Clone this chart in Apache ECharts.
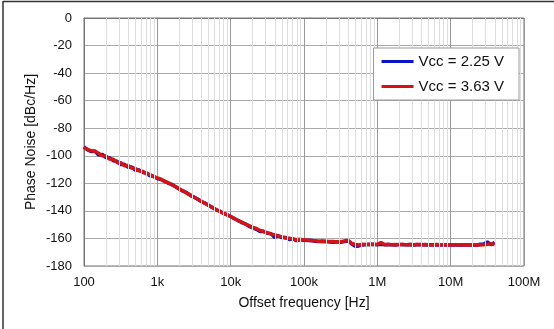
<!DOCTYPE html>
<html><head><meta charset="utf-8">
<script src="https://cdn.jsdelivr.net/npm/echarts@6/dist/echarts.min.js"></script>
<style>html,body{margin:0;padding:0;background:#fff}#c{width:554px;height:329px}</style>
</head><body><div id="c"></div>
<script>
const freqHz = [
100,112,126,141,158,178,200,224,251,282,316,355,398,447,501,562,631,708,794,891,
1000,1122,1259,1413,1585,1778,1995,2239,2512,2818,3162,3548,3981,4467,5012,5623,6310,7079,7943,8913,
1e4,1.12e4,1.26e4,1.41e4,1.58e4,1.78e4,2e4,2.24e4,2.51e4,2.82e4,3.16e4,3.55e4,3.98e4,4.47e4,5.01e4,5.62e4,6.31e4,7.08e4,7.94e4,8.91e4,
1e5,1.12e5,1.26e5,1.41e5,1.58e5,1.78e5,2e5,2.24e5,2.51e5,2.82e5,3.16e5,3.55e5,3.98e5,4.47e5,5.01e5,5.62e5,6.31e5,7.08e5,7.94e5,8.91e5,
1e6,1.12e6,1.26e6,1.41e6,1.58e6,1.78e6,2e6,2.24e6,2.51e6,2.82e6,3.16e6,3.55e6,3.98e6,4.47e6,5.01e6,5.62e6,6.31e6,7.08e6,7.94e6,8.91e6,
1e7,1.12e7,1.26e7,1.41e7,1.58e7,1.78e7,2e7,2.24e7,2.51e7,2.82e7,3.16e7,3.55e7,3.98e7
];
const vcc225 = [
-93.6,-95.8,-97.0,-96.5,-99.4,-99.0,-101.3,-101.5,-103.6,-104.0,-106.4,-106.2,-108.3,-108.2,-110.4,-110.2,-112.1,-112.5,-114.5,-114.9,
-116.6,-117.3,-118.4,-120.0,-120.8,-122.6,-124.2,-125.7,-126.8,-128.7,-130.0,-131.6,-133.2,-134.3,-136.2,-137.4,-139.2,-140.1,-141.7,-142.9,
-144.0,-145.7,-146.9,-148.5,-149.4,-151.2,-152.3,-153.4,-155.0,-154.8,-156.2,-156.5,-159.3,-158.0,-159.4,-159.3,-160.8,-160.2,-161.6,-161.0,
-161.4,-161.5,-161.3,-162.0,-162.3,-162.2,-162.1,-162.6,-162.7,-162.4,-162.8,-162.2,-161.8,-164.0,-165.6,-165.4,-164.7,-164.3,-164.5,-164.2,
-164.5,-164.3,-164.6,-164.4,-164.5,-164.7,-164.3,-164.6,-164.5,-164.4,-164.8,-164.5,-164.4,-164.7,-164.5,-164.6,-164.8,-164.5,-164.7,-164.6,
-164.8,-164.5,-164.7,-164.9,-164.6,-164.8,-164.7,-164.9,-164.2,-164.0,-162.6,-164.5,-163.0
];
const vcc363 = [
-94.0,-95.3,-96.4,-96.8,-98.2,-99.9,-100.2,-102.4,-102.5,-104.8,-105.0,-107.2,-107.0,-108.9,-109.3,-110.8,-111.3,-113.0,-113.6,-115.3,
-116.1,-117.0,-118.7,-119.5,-121.2,-122.3,-124.1,-125.4,-127.1,-128.4,-130.1,-131.4,-133.0,-134.6,-135.9,-137.6,-139.0,-140.4,-141.6,-142.7,
-144.1,-145.4,-147.1,-148.0,-149.6,-150.7,-152.1,-152.8,-154.2,-155.1,-155.8,-156.9,-157.3,-158.4,-158.8,-159.7,-159.8,-160.5,-160.9,-160.6,
-161.2,-161.1,-161.7,-161.6,-162.1,-161.9,-162.4,-162.2,-162.3,-162.6,-162.3,-161.8,-161.3,-163.6,-164.4,-164.8,-164.2,-164.6,-164.1,-164.4,
-164.2,-163.0,-164.5,-164.3,-164.6,-164.4,-164.5,-164.3,-164.6,-164.4,-164.5,-164.3,-164.6,-164.4,-164.5,-164.7,-164.4,-164.6,-164.5,-164.7,
-164.5,-164.6,-164.8,-164.5,-164.7,-164.6,-164.8,-164.6,-164.7,-164.5,-164.3,-163.8,-164.4
];
const seriesNames = ['Vcc = 2.25 V', 'Vcc = 3.63 V'];
const xTickLabels = {100:'100',1000:'1k',10000:'10k',100000:'100k',1000000:'1M',10000000:'10M',100000000:'100M'};

const minorLines = [];
for (let d = 100; d < 1e8; d *= 10) for (let m = 2; m <= 9; m++) minorLines.push({xAxis: d * m});

const font = 'Liberation Sans, Arial, sans-serif';
const chart = echarts.init(document.getElementById('c'), null, {renderer: 'canvas'});
chart.setOption({
  animation: false,
  backgroundColor: '#fff',
  textStyle: {fontFamily: font},
  grid: {left: 84, top: 18, width: 440, height: 248, show: true, borderColor: '#777', borderWidth: 1, backgroundColor: 'transparent'},
  legend: {
    orient: 'vertical', right: 35, top: 48, z: 10,
    backgroundColor: '#fff', borderColor: '#999', borderWidth: 1,
    padding: [5, 15, 5, 8], itemGap: 8, itemWidth: 32, itemHeight: 3, icon: 'rect',
    textStyle: {fontSize: 15, color: '#111', fontFamily: font, lineHeight: 17},
    data: seriesNames
  },
  xAxis: {
    type: 'log', logBase: 10, min: 100, max: 1e8,
    name: 'Offset frequency [Hz]', nameLocation: 'middle', nameGap: 30, nameMoveOverlap: false,
    nameTextStyle: {fontSize: 14, color: '#111', fontFamily: font},
    axisLine: {show: true, lineStyle: {color: '#777'}},
    axisTick: {show: false},
    axisLabel: {fontSize: 13, color: '#111', margin: 10, fontFamily: font, formatter: v => xTickLabels[Math.round(v)] || ''},
    splitLine: {show: true, lineStyle: {color: '#999', width: 1}}
  },
  yAxis: {
    type: 'value', min: -180, max: 0, interval: 20,
    name: 'Phase Noise [dBc/Hz]', nameLocation: 'middle', nameGap: 46, nameRotate: 90, nameMoveOverlap: false,
    nameTextStyle: {fontSize: 14, color: '#111', fontFamily: font},
    axisLine: {show: true, lineStyle: {color: '#777'}},
    axisTick: {show: false},
    axisLabel: {fontSize: 13, color: '#111', margin: 12, fontFamily: font},
    splitLine: {show: true, lineStyle: {color: '#aaa', width: 1}}
  },
  series: [
    {
      type: 'line', name: '_minor', data: [], z: 1, silent: true,
      markLine: {silent: true, symbol: 'none', animation: false, label: {show: false},
        lineStyle: {color: '#ddd', type: 'solid', width: 1}, data: minorLines}
    },
    {
      type: 'line', name: seriesNames[0], z: 3, showSymbol: false, symbol: 'none',
      lineStyle: {color: '#0a14c8', width: 3.5}, itemStyle: {color: '#0a14c8'},
      data: freqHz.map((f, i) => [f, vcc225[i]])
    },
    {
      type: 'line', name: seriesNames[1], z: 4, showSymbol: false, symbol: 'none',
      lineStyle: {color: '#d41414', width: 3.5}, itemStyle: {color: '#d41414'},
      data: freqHz.map((f, i) => [f, vcc363[i]])
    }
  ],
  graphic: [
    {type: 'line', shape: {x1: 3, y1: 1.5, x2: 554, y2: 1.5}, style: {stroke: '#333', lineWidth: 1.5}},
    {type: 'line', shape: {x1: 3, y1: 1, x2: 3, y2: 329}, style: {stroke: '#333', lineWidth: 1.5}}
  ]
});
</script></body></html>
